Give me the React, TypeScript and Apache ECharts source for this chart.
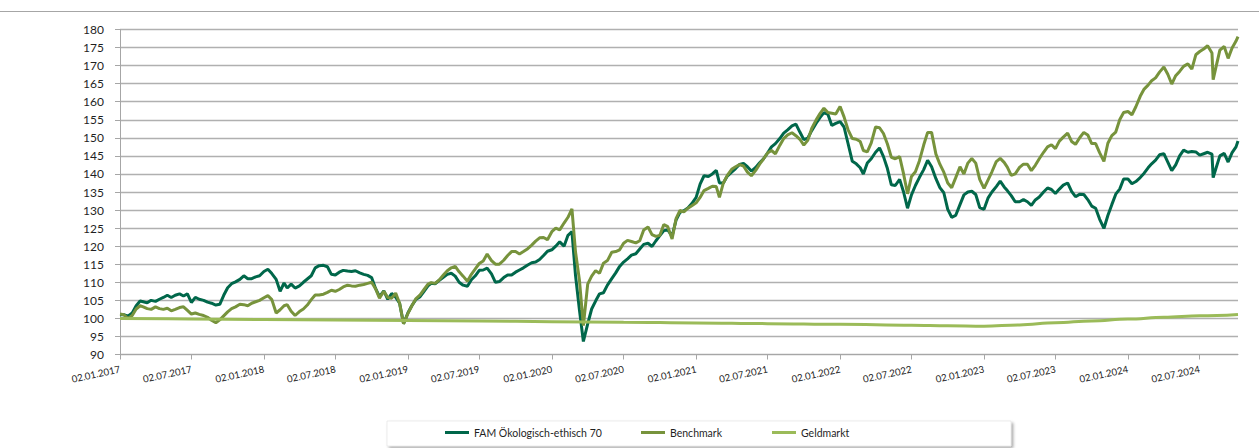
import React, { useEffect, useRef } from "react";
import * as echarts from "echarts";

// ---------- DATA ----------
const dates: string[] = [
  "2017-01-02","2017-01-12","2017-01-22","2017-02-02","2017-02-12","2017-02-22","2017-03-02","2017-03-12","2017-03-22","2017-04-02","2017-04-12","2017-04-22",
  "2017-05-02","2017-05-12","2017-05-22","2017-06-02","2017-06-12","2017-06-22","2017-07-02","2017-07-12","2017-07-22","2017-08-02","2017-08-12","2017-08-22",
  "2017-09-02","2017-09-12","2017-09-22","2017-10-02","2017-10-12","2017-10-22","2017-11-02","2017-11-12","2017-11-22","2017-12-02","2017-12-12","2017-12-22",
  "2018-01-02","2018-01-12","2018-01-22","2018-02-02","2018-02-12","2018-02-22","2018-03-02","2018-03-12","2018-03-22","2018-04-02","2018-04-12","2018-04-22",
  "2018-05-02","2018-05-12","2018-05-22","2018-06-02","2018-06-12","2018-06-22","2018-07-02","2018-07-12","2018-07-22","2018-08-02","2018-08-12","2018-08-22",
  "2018-09-02","2018-09-12","2018-09-22","2018-10-02","2018-10-12","2018-10-22","2018-11-02","2018-11-12","2018-11-22","2018-12-02","2018-12-12","2018-12-22",
  "2019-01-02","2019-01-12","2019-01-22","2019-02-02","2019-02-12","2019-02-22","2019-03-02","2019-03-12","2019-03-22","2019-04-02","2019-04-12","2019-04-22",
  "2019-05-02","2019-05-12","2019-05-22","2019-06-02","2019-06-12","2019-06-22","2019-07-02","2019-07-12","2019-07-22","2019-08-02","2019-08-12","2019-08-22",
  "2019-09-02","2019-09-12","2019-09-22","2019-10-02","2019-10-12","2019-10-22","2019-11-02","2019-11-12","2019-11-22","2019-12-02","2019-12-12","2019-12-22",
  "2020-01-02","2020-01-12","2020-01-22","2020-02-02","2020-02-12","2020-02-22","2020-03-02","2020-03-12","2020-03-22","2020-04-02","2020-04-12","2020-04-22",
  "2020-05-02","2020-05-12","2020-05-22","2020-06-02","2020-06-12","2020-06-22","2020-07-02","2020-07-12","2020-07-22","2020-08-02","2020-08-12","2020-08-22",
  "2020-09-02","2020-09-12","2020-09-22","2020-10-02","2020-10-12","2020-10-22","2020-11-02","2020-11-12","2020-11-22","2020-12-02","2020-12-12","2020-12-22",
  "2021-01-02","2021-01-12","2021-01-22","2021-02-02","2021-02-12","2021-02-22","2021-03-02","2021-03-12","2021-03-22","2021-04-02","2021-04-12","2021-04-22",
  "2021-05-02","2021-05-12","2021-05-22","2021-06-02","2021-06-12","2021-06-22","2021-07-02","2021-07-12","2021-07-22","2021-08-02","2021-08-12","2021-08-22",
  "2021-09-02","2021-09-12","2021-09-22","2021-10-02","2021-10-12","2021-10-22","2021-11-02","2021-11-12","2021-11-22","2021-12-02","2021-12-12","2021-12-22",
  "2022-01-02","2022-01-12","2022-01-22","2022-02-02","2022-02-12","2022-02-22","2022-03-02","2022-03-12","2022-03-22","2022-04-02","2022-04-12","2022-04-22",
  "2022-05-02","2022-05-12","2022-05-22","2022-06-02","2022-06-12","2022-06-22","2022-07-02","2022-07-12","2022-07-22","2022-08-02","2022-08-12","2022-08-22",
  "2022-09-02","2022-09-12","2022-09-22","2022-10-02","2022-10-12","2022-10-22","2022-11-02","2022-11-12","2022-11-22","2022-12-02","2022-12-12","2022-12-22",
  "2023-01-02","2023-01-12","2023-01-22","2023-02-02","2023-02-12","2023-02-22","2023-03-02","2023-03-12","2023-03-22","2023-04-02","2023-04-12","2023-04-22",
  "2023-05-02","2023-05-12","2023-05-22","2023-06-02","2023-06-12","2023-06-22","2023-07-02","2023-07-12","2023-07-22","2023-08-02","2023-08-12","2023-08-22",
  "2023-09-02","2023-09-12","2023-09-22","2023-10-02","2023-10-12","2023-10-22","2023-11-02","2023-11-12","2023-11-22","2023-12-02","2023-12-12","2023-12-22",
  "2024-01-02","2024-01-12","2024-01-22","2024-02-02","2024-02-12","2024-02-22","2024-03-02","2024-03-12","2024-03-22","2024-04-02","2024-04-12","2024-04-22",
  "2024-05-02","2024-05-12","2024-05-22","2024-06-02","2024-06-12","2024-06-22","2024-07-02","2024-07-12","2024-07-22","2024-08-02","2024-08-05","2024-08-12","2024-08-22",
  "2024-09-02","2024-09-12","2024-09-22","2024-10-02","2024-10-07",
];

const famValues: number[] = [
  // 2017
  101.0,101.0,100.6, 101.5,103.5,104.8, 104.6,104.3,105.0, 104.7,105.3,105.8, 106.4,105.8,106.4, 106.8,106.2,106.8,
  104.4,105.8,105.3, 105.0,104.5,104.2, 103.7,103.9,106.4, 108.5,109.6,110.1, 110.8,111.8,111.0, 111.0,111.5,111.8,
  // 2018
  113.0,113.6,112.4, 110.8,107.5,109.8, 108.4,109.5,108.4, 109.0,110.0,110.9, 111.8,114.0,114.6, 114.7,114.3,112.2,
  112.0,112.8,113.3, 113.1,113.0,113.2, 112.6,112.2,111.9, 111.3,108.3,106.0, 107.6,105.3,106.9, 105.9,104.2,98.5,
  // 2019
  101.5,103.5,105.2, 106.0,107.5,109.0, 109.7,109.6,110.5, 111.4,112.2,112.5, 111.7,110.0,109.2, 108.9,110.7,111.8,
  113.3,113.4,113.9, 112.3,110.0,110.2, 111.3,112.0,112.0, 112.8,113.4,114.0, 114.8,115.4,115.6, 116.3,117.4,118.6,
  // 2020
  119.0,120.0,121.2, 120.0,123.0,124.0, 112.0,102.4,93.6, 98.5,102.6,104.8, 106.8,107.1,109.2, 111.0,112.6,114.4,
  115.6,116.5,117.5, 117.9,119.2,120.5, 120.8,119.9,121.5, 122.9,124.3,124.5, 122.8,127.2,129.4, 129.8,130.6,131.8,
  // 2021
  133.5,137.2,139.5, 139.3,140.0,141.0, 137.5,137.5,139.4, 140.5,141.5,142.6, 142.9,142.0,140.8, 141.8,143.1,144.2,
  145.8,147.5,148.4, 149.8,151.3,152.2, 153.3,153.8,151.6, 149.5,149.9,152.0, 154.0,155.6,157.0, 156.5,153.4,154.0,
  // 2022
  154.5,153.0,148.5, 143.5,142.8,141.7, 140.0,143.0,144.2, 146.0,147.2,144.8, 141.5,137.0,136.8, 138.5,135.0,130.5,
  134.2,136.8,139.0, 141.2,143.8,142.0, 138.7,136.2,134.8, 130.2,128.0,128.5, 131.5,134.2,135.0, 135.2,134.3,130.7,
  // 2023
  130.2,133.3,135.0, 136.5,138.0,136.4, 135.4,134.0,132.3, 132.3,132.9,132.3, 131.3,132.8,133.6, 135.0,136.1,135.7,
  134.6,135.8,136.9, 137.5,135.2,133.7, 134.4,134.3,132.9, 131.1,130.5,127.5, 124.9,128.5,131.5, 134.4,135.8,138.6,
  // 2024
  138.6,137.3,137.9, 139.0,140.2,141.7, 142.8,143.8,145.3, 145.6,143.3,140.9, 142.5,145.0,146.6, 146.0,146.2,146.1,
  145.2,145.6,146.0, 145.5,139.0,141.5,145.0, 145.7,143.3,145.9, 147.5,149.1,
];

const benchmarkValues: number[] = [
  // 2017
  101.2,101.0,100.0, 100.8,102.6,103.5, 103.2,102.7,102.5, 103.2,102.7,102.5, 102.8,102.1,102.5, 103.0,103.2,102.2,
  101.2,101.5,101.1, 100.8,100.3,99.5, 98.8,99.6,100.7, 101.8,102.7,103.2, 103.9,103.8,103.5, 104.2,104.6,105.0,
  // 2018
  105.7,106.3,105.2, 101.5,102.4,103.5, 103.8,102.0,100.8, 101.9,102.6,103.7, 105.2,106.5,106.5, 106.7,107.2,107.8,
  107.5,108.0,108.7, 109.2,109.0,108.9, 109.2,109.4,109.7, 110.0,108.2,105.6, 107.5,105.8,105.6, 107.0,104.2,98.5,
  // 2019
  101.3,103.5,105.4, 106.5,108.0,109.5, 109.9,109.7,110.6, 112.0,113.2,114.0, 114.4,112.9,111.7, 110.3,112.2,113.7,
  115.2,115.9,117.8, 116.0,115.0,115.0, 116.1,117.4,118.5, 118.5,117.8,118.5, 119.3,120.3,121.4, 122.3,122.4,121.8,
  // 2020
  124.0,125.0,124.5, 126.4,128.0,130.3, 118.5,110.6,98.0, 109.5,111.7,113.2, 112.5,115.3,116.0, 118.3,118.5,119.0,
  120.8,121.6,121.3, 120.9,121.5,124.5, 125.3,123.2,122.7, 123.0,126.0,125.4, 122.0,127.6,129.9, 129.5,130.5,131.2,
  // 2021
  132.0,133.5,135.4, 136.0,136.6,136.5, 133.5,137.5,139.6, 141.3,142.0,142.6, 142.2,140.5,139.5, 141.0,142.7,144.2,
  145.8,146.5,145.6, 147.9,149.8,150.8, 151.4,150.6,149.6, 148.0,149.3,152.6, 154.9,156.7,158.2, 157.0,156.8,156.6,
  // 2022
  158.7,155.8,152.3, 149.8,149.6,149.0, 146.5,146.1,148.6, 153.0,152.8,151.2, 148.3,144.6,144.2, 144.8,140.0,134.5,
  139.3,140.6,143.6, 148.0,151.5,151.5, 145.5,142.7,140.5, 137.5,136.2,138.9, 142.0,140.0,143.0, 144.3,143.0,138.5,
  // 2023
  136.0,138.3,140.6, 143.4,144.3,143.2, 141.9,139.6,140.0, 141.8,142.7,142.7, 140.9,142.4,144.2, 146.0,147.5,148.1,
  147.0,149.1,150.2, 151.3,149.0,148.2, 150.1,151.5,150.8, 148.4,148.4,145.9, 143.5,148.5,150.6, 151.6,155.0,157.0,
  // 2024
  157.3,156.4,158.6, 161.5,163.5,164.6, 165.8,166.6,168.2, 169.6,167.6,164.9, 167.2,168.4,169.8, 170.5,169.0,173.0,
  173.9,174.6,175.5, 173.5,166.1,169.5,174.3, 175.3,172.0,174.9, 176.8,178.0,
];

const moneyDates: string[] = [
  "2017-01-02","2017-07-02","2018-01-02","2018-07-02","2019-01-02","2019-07-02","2020-01-02","2020-07-02",
  "2021-01-02","2021-07-02","2022-01-02","2022-07-02","2022-10-02","2023-01-02","2023-04-02","2023-07-02",
  "2023-10-02","2024-01-02","2024-04-02","2024-07-02","2024-10-07",
];
const moneyValues: number[] = [
  100.0,99.85,99.7,99.55,99.4,99.25,99.1,98.95,
  98.75,98.55,98.35,98.1,97.95,97.85,98.2,98.8,
  99.3,99.8,100.3,100.7,101.1,
];

const xTickLabels: string[] = [
  "02.01.2017","02.07.2017","02.01.2018","02.07.2018","02.01.2019","02.07.2019","02.01.2020","02.07.2020",
  "02.01.2021","02.07.2021","02.01.2022","02.07.2022","02.01.2023","02.07.2023","02.01.2024","02.07.2024",
];

const seriesNames = ["FAM Ökologisch-ethisch 70", "Benchmark", "Geldmarkt"];
const yMin = 90;
const yMax = 180;
const yStep = 5;

// ---------- helpers ----------
const ORIGIN = Date.UTC(2017, 0, 2);
function isoDay(s: string): number {
  const [y, m, d] = s.split("-").map(Number);
  return (Date.UTC(y, m - 1, d) - ORIGIN) / 86400000;
}
function deDay(s: string): number {
  const [d, m, y] = s.split(".").map(Number);
  return (Date.UTC(y, m - 1, d) - ORIGIN) / 86400000;
}

const FONT = "Lato, 'Open Sans', sans-serif";
const COLORS = ["#00674A", "#77933C", "#9BBB59"];

export default function App() {
  const ref = useRef<HTMLDivElement>(null);

  useEffect(() => {
    if (!ref.current) return;
    const chart = echarts.init(ref.current, null, { renderer: "svg" });
    const tickDays = xTickLabels.map(deDay);
    const lastDay = isoDay(dates[dates.length - 1]);

    const legendCommon = {
      icon: "rect",
      itemWidth: 24,
      itemHeight: 3,
      top: 427,
      padding: 0,
      selectedMode: false,
      textStyle: { fontFamily: FONT, fontSize: 10.5, color: "#1f1f1f" },
    };

    chart.setOption({
      animation: false,
      backgroundColor: "#ffffff",
      grid: { left: 120, top: 29.5, width: 1118, height: 325, containLabel: false },
      xAxis: {
        type: "value",
        min: 0,
        max: lastDay,
        splitLine: { show: false },
        axisLine: { show: true, lineStyle: { color: "#a6a6a6", width: 1 } },
        axisTick: { show: true, length: 5, lineStyle: { color: "#a6a6a6" }, customValues: tickDays },
        axisLabel: {
          customValues: tickDays,
          rotate: 12,
          margin: 14,
          fontFamily: FONT,
          fontSize: 9.7,
          color: "#1f1f1f",
          formatter: (v: number) => {
            let best = -1;
            let bd = Infinity;
            tickDays.forEach((t, i) => {
              const dd = Math.abs(t - v);
              if (dd < bd) { bd = dd; best = i; }
            });
            return bd < 1 ? xTickLabels[best] : "";
          },
        },
      },
      yAxis: {
        type: "value",
        min: yMin,
        max: yMax,
        interval: yStep,
        axisLine: { show: true, lineStyle: { color: "#a6a6a6", width: 1 } },
        axisTick: { show: true, length: 5, lineStyle: { color: "#a6a6a6" } },
        splitLine: { show: true, lineStyle: { color: "#b0b0b0", width: 1.3 } },
        axisLabel: { margin: 16, fontFamily: FONT, fontSize: 12, color: "#1f1f1f" },
      },
      legend: [
        { ...legendCommon, left: 445, data: [seriesNames[0]] },
        { ...legendCommon, left: 641, data: [seriesNames[1]] },
        { ...legendCommon, left: 772, data: [seriesNames[2]] },
      ],
      graphic: [
        {
          type: "line",
          shape: { x1: 0, y1: 11.5, x2: 1259, y2: 11.5 },
          style: { stroke: "#a6a6a6", lineWidth: 1 },
          silent: true,
        },
        {
          type: "rect",
          shape: { x: 387, y: 421, width: 624, height: 25 },
          style: {
            fill: "#ffffff",
            stroke: "#d9d9d9",
            lineWidth: 0.5,
            shadowBlur: 3,
            shadowOffsetX: 2,
            shadowOffsetY: 2,
            shadowColor: "rgba(0,0,0,0.35)",
          },
          silent: true,
          z: -1,
        },
      ],
      series: [
        {
          name: seriesNames[0],
          type: "line",
          symbol: "none",
          color: COLORS[0],
          lineStyle: { width: 3, color: COLORS[0] },
          data: dates.map((d, i) => [isoDay(d), famValues[i]]),
          z: 2,
        },
        {
          name: seriesNames[1],
          type: "line",
          symbol: "none",
          color: COLORS[1],
          lineStyle: { width: 3, color: COLORS[1] },
          data: dates.map((d, i) => [isoDay(d), benchmarkValues[i]]),
          z: 3,
        },
        {
          name: seriesNames[2],
          type: "line",
          symbol: "none",
          color: COLORS[2],
          smooth: 0.4,
          smoothMonotone: "x",
          lineStyle: { width: 3, color: COLORS[2] },
          data: moneyDates.map((d, i) => [isoDay(d), moneyValues[i]]),
          z: 4,
        },
      ],
    });

    return () => chart.dispose();
  }, []);

  return (
    <div
      ref={ref}
      style={{ position: "absolute", left: 0, top: 0, width: 1259, height: 448, background: "#fff" }}
    />
  );
}
